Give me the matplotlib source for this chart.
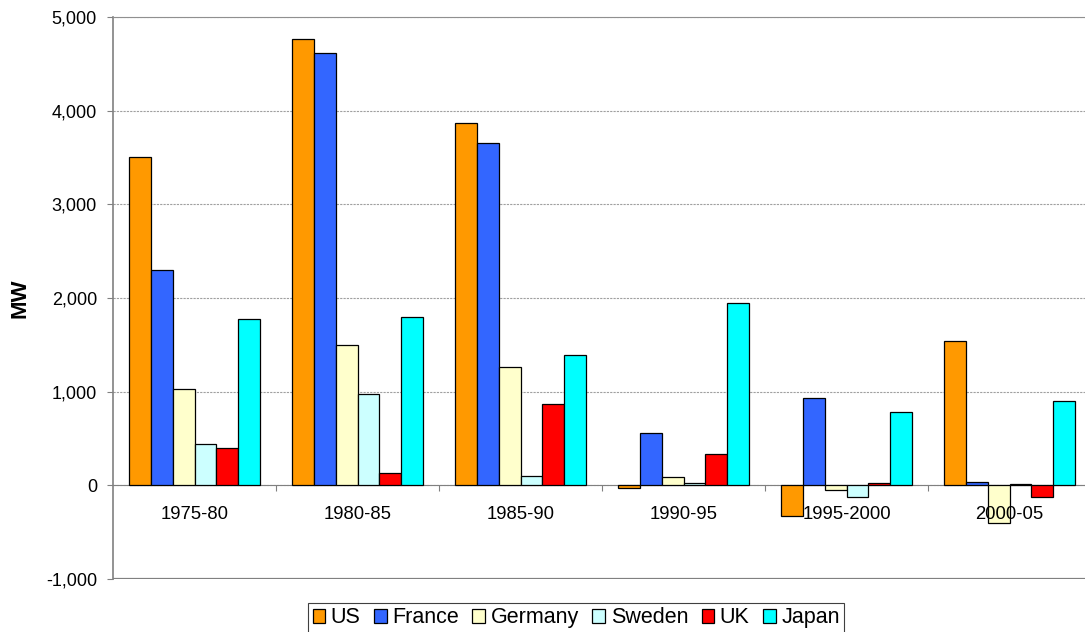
import numpy as np
import matplotlib
matplotlib.use("Agg")
import matplotlib.pyplot as plt

plt.rcParams['font.family'] = ['Liberation Sans', 'DejaVu Sans']

# periods and added capacity (MW) per country
periods = ['1975-80', '1980-85', '1985-90', '1990-95', '1995-2000', '2000-05']
countries = ['US', 'France', 'Germany', 'Sweden', 'UK', 'Japan']
us = [3510, 4760, 3870, -25, -327, 1545]
france = [2300, 4620, 3655, 555, 932, 39]
germany = [1030, 1500, 1260, 89, -53, -406]
sweden = [440, 970, 100, 21, -121, 11]
uk = [400, 130, 870, 331, 25, -128]
japan = [1780, 1800, 1390, 1943, 779, 900]
colors = ['#FF9900', '#3366FF', '#FFFFCC', '#CCFFFF', '#FF0000', '#00FFFF']

series = [us, france, germany, sweden, uk, japan]

fig = plt.figure(figsize=(10.85, 6.32), dpi=100, facecolor='white')
ax = fig.add_axes([113/1085, 1 - 579/632, 978/1085, 562/632])

x = np.arange(len(periods))
w = 1/7.5
for i, (name, vals) in enumerate(zip(countries, series)):
    ax.bar(x + (i - 2.5)*w, vals, w, color=colors[i], edgecolor='black',
           linewidth=0.9, label=name, zorder=3)

ax.set_xlim(-0.5, len(periods) - 0.5)
ax.set_ylim(-1000, 5000)
ax.set_yticks(range(-1000, 5001, 1000))
ax.set_yticklabels(['{:,}'.format(v) for v in range(-1000, 5001, 1000)])
ax.yaxis.grid(True, color='#a0a0a0', linestyle=(0, (2, 1)), linewidth=0.8, zorder=0)

# x axis sits on the zero line
ax.spines['bottom'].set_position(('data', 0))
ax.spines['bottom'].set_color('#808080')
ax.spines['left'].set_color('#808080')
ax.spines['top'].set_color('#909090')
ax.spines['right'].set_visible(False)
ax.axhline(-1000, color='#808080', linewidth=1.6, zorder=2)
ax.spines['left'].set_linewidth(1.2)

ax.set_xticks(np.arange(0.5, len(periods) - 0.5, 1))
ax.set_xticklabels([])
ax.tick_params(axis='x', which='major', direction='out', length=4, color='#808080')
ax.tick_params(axis='y', direction='out', length=4.5, color='#808080', labelsize=13, pad=7)

# category labels drawn above the bars
for xi, lab in zip(x, periods):
    ax.annotate(lab, (xi, 0), xytext=(0, -24.5), textcoords='offset points',
                ha='center', va='baseline', fontsize=13.3, zorder=6)

ax.set_ylabel('MW', fontsize=16, fontweight='bold')
ax.yaxis.set_label_coords(-0.084, 0.5)

leg = fig.legend(loc='upper center', bbox_to_anchor=(0.531, 1 - 603/632), ncol=6,
                 fontsize=15.5, frameon=True, fancybox=False, edgecolor='#404040',
                 framealpha=1, handlelength=0.6, handleheight=0.6,
                 handletextpad=0.25, columnspacing=0.62, borderpad=0.2,
                 borderaxespad=0)
leg.get_frame().set_linewidth(0.8)

fig.savefig('out.png', dpi=100, facecolor='white')
